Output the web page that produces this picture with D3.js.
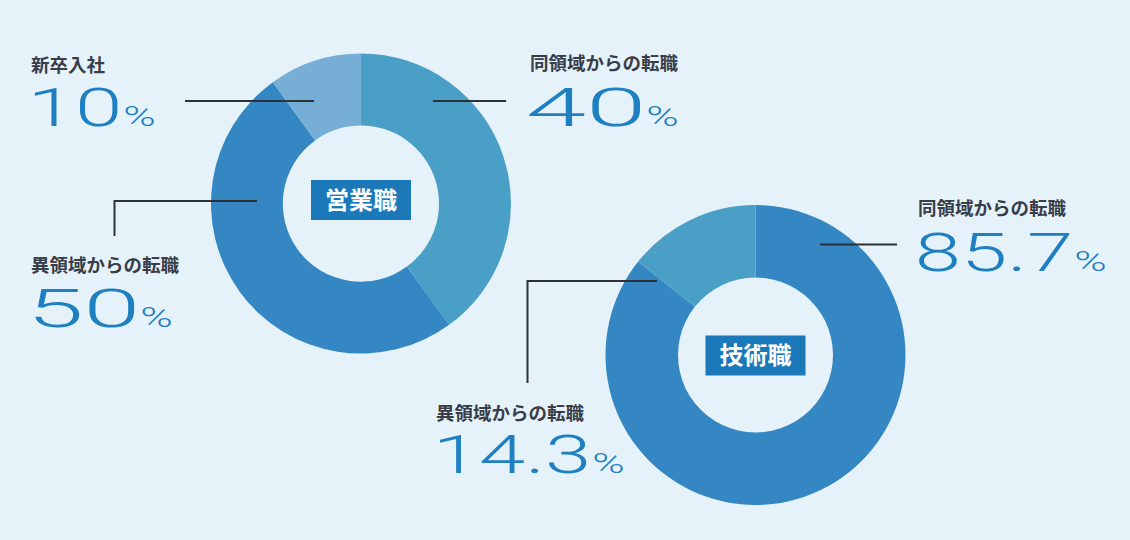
<!DOCTYPE html>
<html>
<head>
<meta charset="utf-8">
<script src="https://cdn.jsdelivr.net/npm/d3@7"></script>
<style>
  html, body { margin: 0; padding: 0; background: #e6f2fa; }
</style>
</head>
<body>
<div id="container"></div>
<script>
/* CONSTANTS AND GLOBALS */
const width = 1130;
const height = 540;

/* DATA */
const salesTitle = "営業職";
const salesCategories = ["同領域からの転職", "異領域からの転職", "新卒入社"];
const salesValues = [40, 50, 10];
const salesLabels = ["40", "50", "10"];

const techTitle = "技術職";
const techCategories = ["同領域からの転職", "異領域からの転職"];
const techValues = [85.7, 14.3];
const techLabels = ["85.7", "14.3"];

/* LAYOUT (positions of donuts and callouts) */
const donuts = [
  {
    title: salesTitle, cats: salesCategories, vals: salesValues, labs: salesLabels,
    cx: 361, cy: 203.5, r: 150, r0: 78, boxY: -23.5,
    colors: ["#4a9fc6", "#3487c3", "#76aed6"],
    callouts: [
      { x: 530, y: 70, w: 112, ny: 126, line: [[433, 101], [506, 101]] },
      { x: 31, y: 272, w: 105, ny: 326.5, line: [[257, 201], [114.5, 201], [114.5, 236]] },
      { x: 31, y: 72, w: 88, ny: 126, line: [[314, 101], [185, 101]] }
    ]
  },
  {
    title: techTitle, cats: techCategories, vals: techValues, labs: techLabels,
    cx: 755.5, cy: 355, r: 150, r0: 77.5, boxY: -19.5,
    colors: ["#3487c3", "#4a9fc6"],
    callouts: [
      { x: 918, y: 215, w: 152, ny: 271, line: [[820, 244.5], [897, 244.5]] },
      { x: 436, y: 420, w: 152, ny: 473, line: [[657, 281], [527.5, 281], [527.5, 383]] }
    ]
  }
];

const numColor = "#1f80c1";
const labelColor = "#383d47";

/* SVG */
const svg = d3.select("#container")
  .append("svg")
  .attr("width", width)
  .attr("height", height)
  .style("display", "block");

svg.append("rect")
  .attr("width", width)
  .attr("height", height)
  .attr("fill", "#e6f2fa");

const pie = d3.pie().sort(null).value(d => d);

// stretch a text horizontally so its ink fits a given width
function stretched(x, y, str, size, w) {
  const g = svg.append("g");
  const t = g.append("text")
    .attr("font-family", "Roboto, sans-serif")
    .attr("font-weight", 300)
    .attr("font-size", size)
    .attr("fill", numColor)
    .text(str);
  const bb = t.node().getBBox();
  const ink = bb.width - size * 0.08; // side bearings
  const sx = w / ink;
  g.attr("transform", `translate(${x - size * 0.04 * sx},${y}) scale(${sx},1)`);
  return g;
}

donuts.forEach(dn => {
  const arc = d3.arc().innerRadius(dn.r0).outerRadius(dn.r);
  const g = svg.append("g").attr("transform", `translate(${dn.cx},${dn.cy})`);

  g.selectAll("path")
    .data(pie(dn.vals))
    .join("path")
    .attr("d", arc)
    .attr("fill", (d, i) => dn.colors[i]);

  // center title
  g.append("rect")
    .attr("x", -50).attr("y", dn.boxY)
    .attr("width", 100).attr("height", 40)
    .attr("fill", "#1b79b9");
  g.append("text")
    .attr("x", 0).attr("y", dn.boxY + 28.5)
    .attr("text-anchor", "middle")
    .attr("font-family", "'Noto Sans CJK JP', sans-serif")
    .attr("font-weight", 700)
    .attr("font-size", 24)
    .attr("fill", "white")
    .text(dn.title);

  // callouts
  dn.callouts.forEach((c, i) => {
    svg.append("path")
      .attr("d", d3.line()(c.line))
      .attr("fill", "none")
      .attr("stroke", "#2e3138")
      .attr("stroke-width", 2);

    svg.append("text")
      .attr("x", c.x).attr("y", c.y)
      .attr("font-family", "'Noto Sans CJK JP', sans-serif")
      .attr("font-weight", 700)
      .attr("font-size", 18.5)
      .attr("fill", labelColor)
      .text(dn.cats[i]);

    stretched(c.x, c.ny, dn.labs[i], 54, c.w);
    stretched(c.x + c.w + 6, c.ny, "%", 28, 29);
  });
});
</script>
</body>
</html>
